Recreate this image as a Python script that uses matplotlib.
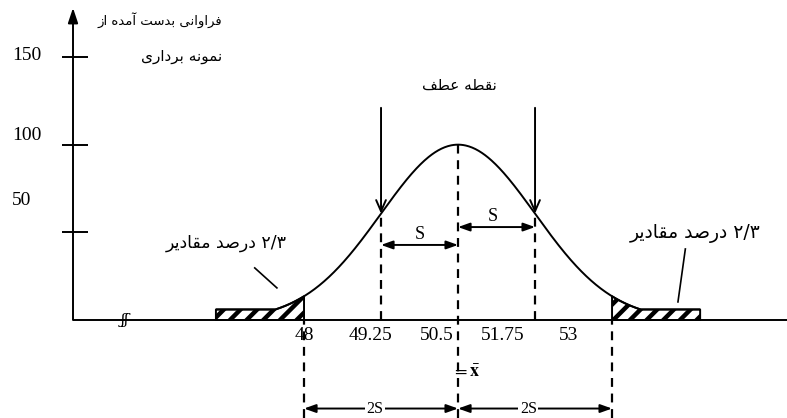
#!/usr/bin/env python3
"""Normal curve sketch: mean 50.5, s = 1.25, tails beyond 2s hatched."""

import matplotlib
matplotlib.use("Agg")
import matplotlib.pyplot as plt
import numpy as np

# ---- data -------------------------------------------------------------
mean = 50.5
s = 1.25
peak = 100.0
tail_floor = 6.0          # flat top of the hatched tails
tail_reach = 3.93         # tails drawn out to mean +/- this
x_ticks = [48, 49.25, 50.5, 51.75, 53]
x_tick_labels = ["48", "49.25", "50.5", "51.75", "53"]
y_ticks = [50, 100, 150]
y_tick_labels = ["50", "100", "150"]

# Persian labels, words in logical (reading) order
ylabel_line1 = ["فراوانی", "بدست", "آمده", "از"]
ylabel_line2 = ["نمونه", "برداری"]
inflection_label = ["نقطه", "عطف"]
tail_label = ["۲/۳", "درصد", "مقادیر"]

# ---- minimal arabic shaping (matplotlib has no complex text layout) ----
# isolated, final, initial, medial
FORMS = {
    "\u0622": ("\uFE81", "\uFE82", None, None),
    "\u0627": ("\uFE8D", "\uFE8E", None, None),
    "\u0628": ("\uFE8F", "\uFE90", "\uFE91", "\uFE92"),
    "\u062A": ("\uFE95", "\uFE96", "\uFE97", "\uFE98"),
    "\u062F": ("\uFEA9", "\uFEAA", None, None),
    "\u0631": ("\uFEAD", "\uFEAE", None, None),
    "\u0632": ("\uFEAF", "\uFEB0", None, None),
    "\u0633": ("\uFEB1", "\uFEB2", "\uFEB3", "\uFEB4"),
    "\u0635": ("\uFEB9", "\uFEBA", "\uFEBB", "\uFEBC"),
    "\u0637": ("\uFEC1", "\uFEC2", "\uFEC3", "\uFEC4"),
    "\u0639": ("\uFEC9", "\uFECA", "\uFECB", "\uFECC"),
    "\u0641": ("\uFED1", "\uFED2", "\uFED3", "\uFED4"),
    "\u0642": ("\uFED5", "\uFED6", "\uFED7", "\uFED8"),
    "\u0645": ("\uFEE1", "\uFEE2", "\uFEE3", "\uFEE4"),
    "\u0646": ("\uFEE5", "\uFEE6", "\uFEE7", "\uFEE8"),
    "\u0647": ("\uFEE9", "\uFEEA", "\uFEEB", "\uFEEC"),
    "\u0648": ("\uFEED", "\uFEEE", None, None),
    "\u06CC": ("\uFEEF", "\uFEF0", "\uFEF3", "\uFEF4"),
}


def shape_word(word):
    # numbers keep left-to-right order
    if not any(ch in FORMS for ch in word):
        return word
    out = []
    for i, ch in enumerate(word):
        forms = FORMS.get(ch)
        if forms is None:
            out.append(ch)
            continue
        prev = word[i - 1] if i > 0 else None
        nxt = word[i + 1] if i + 1 < len(word) else None
        joins_prev = prev in FORMS and FORMS[prev][2] is not None
        joins_next = nxt in FORMS and forms[2] is not None
        if joins_prev and joins_next:
            out.append(forms[3])
        elif joins_prev:
            out.append(forms[1])
        elif joins_next:
            out.append(forms[2])
        else:
            out.append(forms[0])
    return "".join(reversed(out))


def persian(words):
    # right-to-left: first word ends up rightmost
    return " ".join(shape_word(w) for w in reversed(words))


def gauss(x):
    return peak * np.exp(-((x - mean) ** 2) / (2 * s ** 2))


# ---- figure -----------------------------------------------------------
FA = ["DejaVu Sans"]
SERIF = ["Liberation Serif", "DejaVu Serif"]
plt.rcParams["hatch.linewidth"] = 3.2
plt.rcParams["mathtext.fontset"] = "stix"

fig = plt.figure(figsize=(7.87, 4.18), dpi=100, facecolor="white")
ax = fig.add_axes([0, 0, 1, 1])
ax.set_xlim(43.065, 55.84)
ax.set_ylim(-55.9, 182.5)
ax.axis("off")

lw = 1.4
axis_x = 44.25

# y axis with arrow, ticks and (offset) tick labels
ax.annotate("", xy=(axis_x, 178), xytext=(axis_x, 0),
            arrowprops=dict(arrowstyle="-|>,head_length=0.9,head_width=0.3", color="black", lw=lw,
                            shrinkA=0, shrinkB=0))
ax.hlines(y_ticks, axis_x - 0.18, axis_x + 0.24, color="black", lw=lw)
ylabel_nudge = [18, 5.5, 0.6]
for val, lab, dy in zip(y_ticks, y_tick_labels, ylabel_nudge):
    ax.text(43.26, val + dy, lab, ha="left", va="center", fontsize=14, family=SERIF)

# baseline with break mark
ax.hlines(0, axis_x, 55.84, color="black", lw=lw)
ax.text(45.09, 0, "ʃʃ", ha="center", va="center", fontsize=11, family=["DejaVu Serif"], style="italic")

# curve
xs = np.linspace(mean - tail_reach, mean + tail_reach, 600)
ys = np.maximum(gauss(xs), tail_floor)
ax.plot(xs, ys, color="black", lw=lw, solid_capstyle="butt")

# hatched tails beyond 2s
for lo, hi in [(mean - tail_reach, mean - 2 * s), (mean + 2 * s, mean + tail_reach)]:
    xt = np.linspace(lo, hi, 200)
    yt = np.maximum(gauss(xt), tail_floor)
    ax.fill_between(xt, 0, yt, facecolor="white", edgecolor="black", hatch="//", lw=lw)

# dashed guides
dash = dict(color="black", lw=1.6, linestyles=(0, (4, 3)))
ax.vlines([mean - s, mean + s], 0, gauss(mean - s), **dash)
ax.vlines(mean, -55.9, peak, **dash)
ax.vlines([mean - 2 * s, mean + 2 * s], -55.9, 0, **dash)

# arrows pointing at the inflection points
for xi in [mean - s, mean + s]:
    ax.annotate("", xy=(xi, gauss(xi)), xytext=(xi, 121),
                arrowprops=dict(arrowstyle="->,head_length=0.8,head_width=0.35", color="black",
                                lw=lw, shrinkA=0, shrinkB=0))
ax.text(50.53, 134, persian(inflection_label), ha="center", va="center", fontsize=11, family=FA)

# s arrows
s_arrow = dict(arrowstyle="<|-|>,head_length=0.7,head_width=0.25", color="black", lw=lw,
               shrinkA=0, shrinkB=0)
ax.annotate("", xy=(mean - s, 42.8), xytext=(mean, 42.8), arrowprops=s_arrow)
ax.annotate("", xy=(mean, 53), xytext=(mean + s, 53), arrowprops=s_arrow)
ax.text(49.88, 48.5, "S", ha="center", va="center", fontsize=13, family=SERIF)
ax.text(51.07, 58.8, "S", ha="center", va="center", fontsize=13, family=SERIF)

# 2s arrows at the bottom
ax.annotate("", xy=(mean - 2 * s, -50.5), xytext=(mean, -50.5), arrowprops=s_arrow)
ax.annotate("", xy=(mean, -50.5), xytext=(mean + 2 * s, -50.5), arrowprops=s_arrow)
for xc in [49.15, 51.64]:
    ax.text(xc, -50.5, "2S", ha="center", va="center", fontsize=11.5, family=SERIF,
            bbox=dict(facecolor="white", edgecolor="none", pad=1.0))

# x tick labels (set a little left of their guides, as in the source)
for val, lab in zip(x_ticks, x_tick_labels):
    ax.text(48.0 + (val - 48) * 0.86, -9.1, lab, ha="center", va="center",
            fontsize=14, family=SERIF)
ax.text(50.40, -29.7, r"$=\bar{\mathbf{x}}$", ha="left", va="center", fontsize=13)

# tail annotations
ax.text(46.73, 43.9, persian(tail_label), ha="center", va="center", fontsize=12.5, family=FA)
ax.plot([47.20, 47.56], [29.7, 18.3], color="black", lw=1.2)
ax.text(54.35, 49.6, persian(tail_label), ha="center", va="center", fontsize=13.5, family=FA)
ax.plot([54.19, 54.07], [40.5, 10.3], color="black", lw=1.2)

# y axis caption
ax.text(46.67, 171.1, persian(ylabel_line1), ha="right", va="center", fontsize=9.5, family=FA)
ax.text(46.67, 150.0, persian(ylabel_line2), ha="right", va="center", fontsize=11, family=FA)

fig.savefig("out.png", dpi=100, facecolor="white")
